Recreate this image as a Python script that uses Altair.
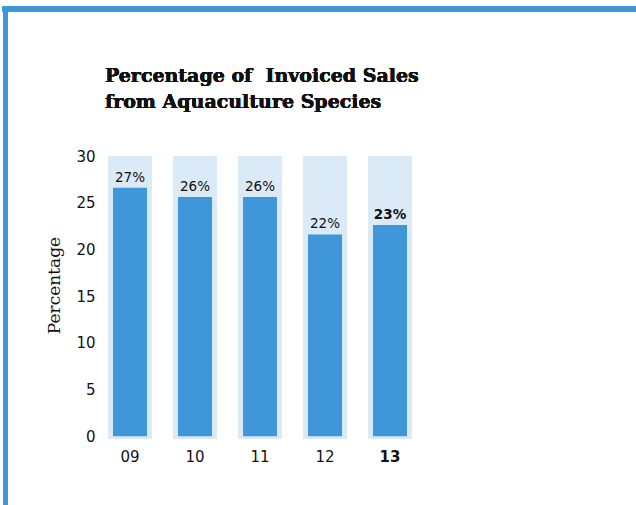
import altair as alt
import pandas as pd

# Fiscal years and share of invoiced sales from aquaculture species (%)
years = ["09", "10", "11", "12", "13"]
shares = [26.6, 25.6, 25.6, 21.6, 22.6]
scale_max = [30, 30, 30, 30, 30]
scale_min = [-0.3, -0.3, -0.3, -0.3, -0.3]
highlight = [False, False, False, False, True]
y_ticks = [0, 5, 10, 15, 20, 25, 30]
title_lines = ["Percentage of\u00a0 Invoiced Sales", "from Aquaculture Species"]

df = pd.DataFrame({
    "year": years,
    "share": shares,
    "top": scale_max,
    "bottom": scale_min,
    "latest": highlight,
})

BLUE = "#3f97da"
PALE = "#dbeaf7"
FRAME = "#3f97da"
INK = "#111111"

x_enc = alt.X(
    "year:N",
    sort=years,
    title=None,
    scale=alt.Scale(paddingInner=0.323, paddingOuter=0.123),
    axis=alt.Axis(
        domain=False, ticks=False, labelAngle=0, labelFont="DejaVu Sans",
        labelFontSize=15, labelColor=INK, labelPadding=10,
        labelFontWeight=alt.expr("datum.value == '13' ? 'bold' : 'normal'"),
    ),
)
y_scale = alt.Scale(domain=[-0.3, 30], nice=False, zero=False)

background = alt.Chart(df).mark_bar(color=PALE).encode(
    x=x_enc,
    y=alt.Y(
        "top:Q", scale=y_scale, title="Percentage",
        axis=alt.Axis(
            values=y_ticks, domain=False, ticks=False, grid=False,
            labelFont="DejaVu Sans", labelFontSize=15, labelColor=INK,
            labelPadding=5, titleFont="DejaVu Serif", titleFontSize=17,
            titleFontWeight="normal", titleColor=INK,
            titleX=-37, titleY=129, titleBaseline="bottom",
        ),
    ),
    y2="bottom:Q",
)

bars = alt.Chart(df).mark_bar(color=BLUE, size=34).encode(
    x=alt.X("year:N", sort=years),
    y=alt.Y("share:Q", scale=y_scale),
    y2=alt.datum(0),
)

# Value labels above each bar; the latest year is set in bold
label_base = alt.Chart(df).transform_calculate(
    pct="format(datum.share, '.0f') + '%'"
)
labels = label_base.mark_text(
    dy=-10, font="DejaVu Sans", fontSize=13.5, color=INK
).encode(
    x=alt.X("year:N", sort=years),
    y=alt.Y("share:Q", scale=y_scale),
    text="pct:N",
).transform_filter("!datum.latest")
labels_bold = label_base.mark_text(
    dy=-10, font="DejaVu Sans", fontSize=13.5, fontWeight="bold", color=INK
).encode(
    x=alt.X("year:N", sort=years),
    y=alt.Y("share:Q", scale=y_scale),
    text="pct:N",
).transform_filter("datum.latest")

# Two-line heading above the plot
heading = alt.Chart(df).mark_text(
    text=title_lines, font="DejaVu Serif", fontSize=19, fontWeight="bold",
    color=INK, align="left", baseline="alphabetic", lineHeight=26,
).encode(x=alt.value(5), y=alt.value(-74))

# Page frame: blue rules along the top and left edges
frame_top = alt.Chart(df).mark_rule(color=FRAME, strokeWidth=6).encode(
    x=alt.value(-98), x2=alt.value(540), y=alt.value(-147)
)
frame_left = alt.Chart(df).mark_rule(color=FRAME, strokeWidth=5).encode(
    x=alt.value(-94.5), y=alt.value(-150), y2=alt.value(360)
)

chart = alt.layer(
    background, bars, labels, labels_bold, heading, frame_top, frame_left
).properties(
    width=320,
    height=283,
    padding={"left": 100, "top": 156, "right": 216, "bottom": 66},
    autosize=alt.AutoSizeParams(type="none"),
).configure_view(stroke=None)

chart.save("out.html", embed_options={"renderer": "svg", "actions": False})
